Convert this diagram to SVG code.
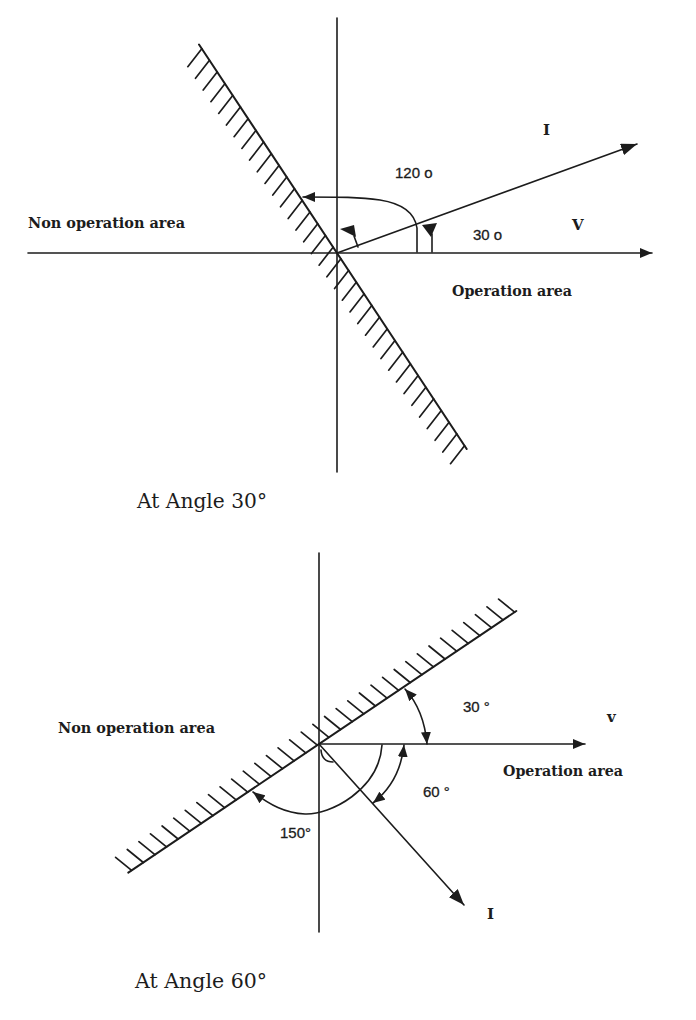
<svg xmlns="http://www.w3.org/2000/svg" width="696" height="1020" viewBox="0 0 696 1020">
<style>
.ln{stroke:#1c1c1c;stroke-width:1.6;fill:none;stroke-linecap:round}
.hl{stroke:#1c1c1c;stroke-width:2;fill:none;stroke-linecap:round}
.tk{stroke:#1c1c1c;stroke-width:1.7;fill:none;stroke-linecap:round}
.fill{fill:#1c1c1c}
.lbl{font-family:"DejaVu Serif","Liberation Serif",serif;font-weight:bold;font-size:15px;fill:#1c1c1c}
.num{font-family:"Liberation Sans","DejaVu Sans",sans-serif;font-size:15px;fill:#1c1c1c;stroke:#1c1c1c;stroke-width:0.3}
.let{font-family:"DejaVu Serif","Liberation Serif",serif;font-weight:bold;font-size:15px;fill:#1c1c1c}
.cap{font-family:"DejaVu Serif","Liberation Serif",serif;font-size:20px;fill:#1c1c1c}
</style>
<defs>
<marker id="ar" viewBox="0 0 12 10" refX="12" refY="5" markerWidth="12" markerHeight="10" markerUnits="userSpaceOnUse" orient="auto-start-reverse"><path d="M0,0 L12,5 L0,10 z" fill="#1c1c1c"/></marker>
<marker id="arL" viewBox="0 0 16 12" refX="16" refY="6" markerWidth="16" markerHeight="12" markerUnits="userSpaceOnUse" orient="auto-start-reverse"><path d="M0,0 L16,6 L0,12 z" fill="#1c1c1c"/></marker>
</defs>
<rect width="696" height="1020" fill="#ffffff"/>

<g id="top-diagram">
  <g id="top-axes">
    <path class="ln" d="M337,18 V472"/>
    <path class="ln" d="M28,253 H652" marker-end="url(#ar)"/>
  </g>
  <g id="top-boundary">
    <path class="hl" d="M199,44.5 L466.7,449"/>
    <path class="tk" d="M201.8,48.7 l-14,18 M209.5,60.3 l-14,18 M217.2,72 l-14,18 M224.9,83.7 l-14,18 M232.7,95.4 l-14,18 M240.4,107 l-14,18 M248.1,118.7 l-14,18 M255.9,130.4 l-14,18 M263.6,142.1 l-14,18 M271.3,153.8 l-14,18 M279,165.4 l-14,18 M286.8,177.1 l-14,18 M294.5,188.8 l-14,18 M302.2,200.5 l-14,18 M310,212.1 l-14,18 M317.7,223.8 l-14,18 M325.4,235.5 l-14,18 M333.1,247.2 l-14,18 M340.9,258.8 l-14,18 M348.6,270.5 l-14,18 M356.3,282.2 l-14,18 M364,293.9 l-14,18 M371.8,305.5 l-14,18 M379.5,317.2 l-14,18 M387.2,328.9 l-14,18 M395,340.6 l-14,18 M402.7,352.2 l-14,18 M410.4,363.9 l-14,18 M418.1,375.6 l-14,18 M425.9,387.3 l-14,18 M433.6,399 l-14,18 M441.3,410.6 l-14,18 M449.1,422.3 l-14,18 M456.8,434 l-14,18 M464.5,445.7 l-14,18"/>
  </g>
  <g id="top-connectors">
    <path class="ln" d="M337,253 L637,144" marker-end="url(#arL)"/>
    <path class="ln" d="M417,252 L417,228 C415,214 405,204 380,200 C360,197 340,197 303,197" marker-end="url(#ar)"/>
    <path class="ln" d="M432,252 V234"/>
    <polygon class="fill" points="422,225 437,223 431,237"/>
    <path class="ln" d="M358,247 L354,236"/>
    <polygon class="fill" points="340,229 354,225 356,237"/>
  </g>
  <g id="top-labels">
    <text class="num" x="395" y="178">120 o</text>
    <text class="let" x="543" y="135">I</text>
    <text class="let" x="572" y="230" font-size="16">V</text>
    <text class="num" x="473" y="240" font-size="14">30 o</text>
    <text class="lbl" x="28" y="228" textLength="157" lengthAdjust="spacingAndGlyphs">Non operation area</text>
    <text class="lbl" x="452" y="296" textLength="120" lengthAdjust="spacingAndGlyphs">Operation area</text>
    <text class="cap" x="137" y="508" textLength="130" lengthAdjust="spacingAndGlyphs">At Angle 30°</text>
  </g>
</g>

<g id="bottom-diagram">
  <g id="bottom-axes">
    <path class="ln" d="M319,553 V932"/>
    <path class="ln" d="M320,744 H585" marker-end="url(#ar)"/>
  </g>
  <g id="bottom-boundary">
    <path class="hl" d="M128.3,872.6 L516.3,611"/>
    <path class="tk" d="M131.6,870.3 l-16,-13 M143.3,862.5 l-16,-13 M154.9,854.7 l-16,-13 M166.5,846.9 l-16,-13 M178.1,839 l-16,-13 M189.7,831.2 l-16,-13 M201.3,823.4 l-16,-13 M212.9,815.6 l-16,-13 M224.5,807.7 l-16,-13 M236.1,799.9 l-16,-13 M247.7,792.1 l-16,-13 M259.3,784.2 l-16,-13 M270.9,776.4 l-16,-13 M282.5,768.6 l-16,-13 M294.1,760.8 l-16,-13 M305.7,752.9 l-16,-13 M317.3,745.1 l-16,-13 M328.9,737.3 l-16,-13 M340.6,729.5 l-16,-13 M352.2,721.6 l-16,-13 M363.8,713.8 l-16,-13 M375.4,706 l-16,-13 M387,698.2 l-16,-13 M398.6,690.3 l-16,-13 M410.2,682.5 l-16,-13 M421.8,674.7 l-16,-13 M433.4,666.9 l-16,-13 M445,659 l-16,-13 M456.6,651.2 l-16,-13 M468.2,643.4 l-16,-13 M479.8,635.6 l-16,-13 M491.4,627.7 l-16,-13 M503,619.9 l-16,-13 M514.6,612.1 l-16,-13"/>
  </g>
  <g id="bottom-connectors">
    <path class="ln" d="M319,744 L464,905" marker-end="url(#arL)"/>
    <path class="ln" d="M405,689 Q424,710 427,744" marker-start="url(#ar)" marker-end="url(#ar)"/>
    <path class="ln" d="M404,745 Q400,782 373,803" marker-start="url(#ar)" marker-end="url(#ar)"/>
    <path class="ln" d="M382,745 C379,790 330,815 305,814 C285,813 270,805 253,792" marker-end="url(#ar)"/>
    <path class="ln" d="M321,750 Q322,762 333,762"/>
  </g>
  <g id="bottom-labels">
    <text class="num" x="463" y="712">30 °</text>
    <text class="num" x="423" y="797">60  °</text>
    <text class="num" x="280" y="838">150°</text>
    <text class="let" x="607" y="722" font-size="17">v</text>
    <text class="let" x="487" y="919">I</text>
    <text class="lbl" x="58" y="733" textLength="157" lengthAdjust="spacingAndGlyphs">Non operation area</text>
    <text class="lbl" x="503" y="776" textLength="120" lengthAdjust="spacingAndGlyphs">Operation area</text>
    <text class="cap" x="135" y="988" textLength="132" lengthAdjust="spacingAndGlyphs">At Angle 60°</text>
  </g>
</g>
</svg>
